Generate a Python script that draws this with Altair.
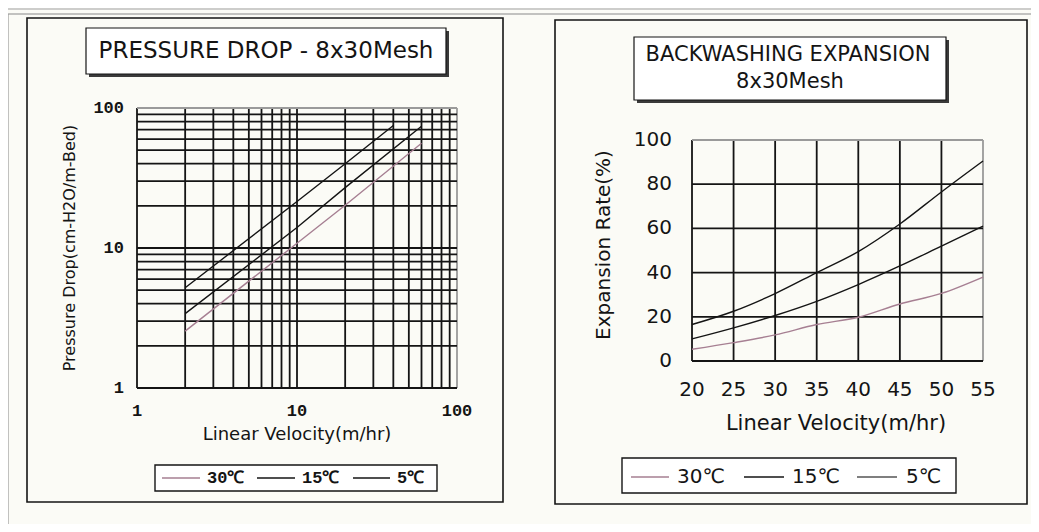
import altair as alt
import pandas as pd

# ---------------- data ----------------
# Pressure drop (log-log), Linear velocity (m/hr) vs cm-H2O/m-Bed
pd_v_5 = [2, 10, 20, 40]
pd_dp_5 = [5.2, 21.5, 40, 75]
pd_v_15 = [2, 10, 20, 60]
pd_dp_15 = [3.4, 14, 27, 74]
pd_v_30 = [2, 10, 20, 60]
pd_dp_30 = [2.55, 10.8, 20.2, 56]

# Backwashing expansion (%)
bw_v = [20, 25, 30, 35, 40, 45, 50, 55]
bw_5 = [16.5, 22.5, 30.5, 40, 49.5, 62, 76.5, 90.5]
bw_15 = [10, 15, 20.6, 27, 34.6, 43, 52, 61]
bw_30 = [5.3, 8.3, 11.8, 16.5, 19.8, 25.8, 30.6, 38]

series = ["30℃", "15℃", "5℃"]

log_grid = [1, 2, 3, 4, 5, 6, 7, 8, 9, 10, 20, 30, 40, 50, 60, 70, 80, 90, 100]
log_ticks = [1, 10, 100]
bw_x_ticks = [20, 25, 30, 35, 40, 45, 50, 55]
bw_y_ticks = [0, 20, 40, 60, 80, 100]

# ---------------- layout helpers ----------------
OX, OY = 12, 16   # page position of the chart origin
W, H = 1019, 508

def X(p):
    return p - OX

def Y(p):
    return p - OY

BG = "#fbfbf6"
INK = "#141414"
PINK = "#a67f92"
GRAY = "#9a9a9a"
SANS = "DejaVu Sans"
MONO = "Liberation Mono"

one = pd.DataFrame({"k": [0]})

def rect(x1, y1, x2, y2, fill=None, stroke=None, sw=1.0):
    kw = {}
    if fill is None:
        kw["fillOpacity"] = 0
    else:
        kw["fill"] = fill
    if stroke is not None:
        kw["stroke"] = stroke
        kw["strokeWidth"] = sw
    return alt.Chart(one).mark_rect(**kw).encode(
        x=alt.value(X(x1)), x2=alt.value(X(x2)),
        y=alt.value(Y(y1)), y2=alt.value(Y(y2)))

def hline(x1, x2, y, color=INK, sw=1.0):
    return alt.Chart(one).mark_rule(color=color, strokeWidth=sw).encode(
        x=alt.value(X(x1)), x2=alt.value(X(x2)), y=alt.value(Y(y)))

def vline(x, y1, y2, color=INK, sw=1.0):
    return alt.Chart(one).mark_rule(color=color, strokeWidth=sw).encode(
        x=alt.value(X(x)), y=alt.value(Y(y1)), y2=alt.value(Y(y2)))

def text(s, x, y, font=SANS, size=16, align="center", weight="normal", angle=0):
    kw = dict(text=s, font=font, fontSize=size, align=align, baseline="middle",
              fontWeight=weight, color=INK)
    if angle:
        kw["angle"] = angle
    return alt.Chart(one).mark_text(**kw).encode(x=alt.value(X(x)), y=alt.value(Y(y)))

layers = []

# ---------------- page frame ----------------
layers.append(hline(7, 1039, 6, color="#a0a0a0", sw=1.2))
layers.append(hline(7, 1039, 9, color="#a0a0a0", sw=1.2))
layers.append(hline(7, 1039, 14, color="#8a8a8a", sw=1.2))
layers.append(vline(8, 14, 532, color="#9a9a9a", sw=1.2))

# ================= LEFT PANEL =================
L_x0, L_x1, L_y0, L_y1 = 137, 457, 108, 388
LX = alt.Scale(type="log", domain=[1, 100], range=[X(L_x0), X(L_x1)], nice=False)
LY = alt.Scale(type="log", domain=[1, 100], range=[Y(L_y1), Y(L_y0)], nice=False)

layers.append(rect(27, 18, 503, 502, stroke=INK, sw=1.6))
# title box with shadow
layers.append(rect(89, 31, 449, 77, fill="#3a3a3a"))
layers.append(rect(86, 28, 446, 74, fill="white", stroke=INK, sw=1.2))
layers.append(text("PRESSURE DROP - 8x30Mesh", 266, 51, size=23))

grid_df = pd.DataFrame({"g": log_grid})
layers.append(alt.Chart(grid_df).mark_rule(strokeWidth=1.8).encode(
    x=alt.X("g:Q", scale=LX, axis=None),
    y=alt.value(Y(L_y0)), y2=alt.value(Y(L_y1)),
    color=alt.condition("datum.g == 100", alt.value(GRAY), alt.value(INK))))
layers.append(alt.Chart(grid_df).mark_rule(strokeWidth=1.8).encode(
    y=alt.Y("g:Q", scale=LY, axis=None),
    x=alt.value(X(L_x0)), x2=alt.value(X(L_x1)),
    color=alt.condition("datum.g == 100", alt.value(GRAY), alt.value(INK))))

left_df = pd.concat([
    pd.DataFrame({"v": pd_v_30, "y": pd_dp_30, "t": series[0]}),
    pd.DataFrame({"v": pd_v_15, "y": pd_dp_15, "t": series[1]}),
    pd.DataFrame({"v": pd_v_5, "y": pd_dp_5, "t": series[2]}),
])
layers.append(alt.Chart(left_df).mark_line(strokeWidth=1.4).encode(
    x=alt.X("v:Q", scale=LX, axis=None),
    y=alt.Y("y:Q", scale=LY, axis=None),
    color=alt.Color("t:N", scale=alt.Scale(domain=series, range=[PINK, INK, INK]), legend=None)))

tick_df = pd.DataFrame({"v": log_ticks})
layers.append(alt.Chart(tick_df).mark_text(font=MONO, fontSize=17, fontWeight="bold",
                                            align="right", baseline="middle", color=INK).encode(
    y=alt.Y("v:Q", scale=LY, axis=None), x=alt.value(X(124)),
    text=alt.Text("v:Q", format="d")))
layers.append(alt.Chart(tick_df).mark_text(font=MONO, fontSize=17, fontWeight="bold",
                                            align="center", baseline="middle", color=INK).encode(
    x=alt.X("v:Q", scale=LX, axis=None), y=alt.value(Y(411)),
    text=alt.Text("v:Q", format="d")))
layers.append(text("Linear Velocity(m/hr)", 297, 435, size=18))
layers.append(text("Pressure Drop(cm-H2O/m-Bed)", 70, 248, size=16, angle=270))

# legend
layers.append(rect(155, 465, 437, 491, fill="white", stroke=INK, sw=1.4))
for (x1, x2, tx), name, col in zip([(162, 200, 207), (257, 295, 302), (353, 390, 397)],
                                   series, [PINK, INK, INK]):
    layers.append(hline(x1, x2, 478, color=col, sw=1.3))
    layers.append(text(name, tx, 478, font=MONO, size=17, weight="bold", align="left"))

# ================= RIGHT PANEL =================
R_x0, R_x1, R_y0, R_y1 = 692, 983, 140, 361
RX = alt.Scale(type="linear", domain=[20, 55], range=[X(R_x0), X(R_x1)], nice=False, zero=False)
RY = alt.Scale(type="linear", domain=[0, 100], range=[Y(R_y1), Y(R_y0)], nice=False, zero=False)

layers.append(rect(555, 20, 1027, 504, stroke=INK, sw=1.6))
layers.append(rect(637, 40, 949, 103, fill="#3a3a3a"))
layers.append(rect(634, 37, 946, 100, fill="white", stroke=INK, sw=1.2))
layers.append(text("BACKWASHING EXPANSION", 788, 55, size=21))
layers.append(text("8x30Mesh", 790, 82, size=21))

bx_df = pd.DataFrame({"g": bw_x_ticks})
by_df = pd.DataFrame({"g": bw_y_ticks})
layers.append(alt.Chart(bx_df).mark_rule(strokeWidth=1.8).encode(
    x=alt.X("g:Q", scale=RX, axis=None),
    y=alt.value(Y(R_y0)), y2=alt.value(Y(R_y1)),
    color=alt.condition("datum.g == 55", alt.value(GRAY), alt.value(INK))))
layers.append(alt.Chart(by_df).mark_rule(strokeWidth=1.8).encode(
    y=alt.Y("g:Q", scale=RY, axis=None),
    x=alt.value(X(R_x0)), x2=alt.value(X(R_x1)),
    color=alt.condition("datum.g == 100", alt.value(GRAY), alt.value(INK))))

right_df = pd.concat([
    pd.DataFrame({"v": bw_v, "y": bw_30, "t": series[0]}),
    pd.DataFrame({"v": bw_v, "y": bw_15, "t": series[1]}),
    pd.DataFrame({"v": bw_v, "y": bw_5, "t": series[2]}),
])
layers.append(alt.Chart(right_df).mark_line(strokeWidth=1.4, interpolate="monotone").encode(
    x=alt.X("v:Q", scale=RX, axis=None),
    y=alt.Y("y:Q", scale=RY, axis=None),
    color=alt.Color("t:N", scale=alt.Scale(domain=series, range=[PINK, INK, INK]), legend=None)))

layers.append(alt.Chart(by_df).mark_text(font=SANS, fontSize=20, align="right",
                                          baseline="middle", color=INK).encode(
    y=alt.Y("g:Q", scale=RY, axis=None), x=alt.value(X(672)),
    text=alt.Text("g:Q", format="d")))
layers.append(alt.Chart(bx_df).mark_text(font=SANS, fontSize=20, align="center",
                                          baseline="middle", color=INK).encode(
    x=alt.X("g:Q", scale=RX, axis=None), y=alt.value(Y(390)),
    text=alt.Text("g:Q", format="d")))
layers.append(text("Linear Velocity(m/hr)", 836, 424, size=21))
layers.append(text("Expansion Rate(%)", 604, 245, size=20, angle=270))

layers.append(rect(622, 458, 956, 493, fill="white", stroke=INK, sw=1.4))
for (x1, x2, tx), name, col in zip([(631, 669, 677), (744, 784, 792), (857, 897, 906)],
                                   series, [PINK, INK, "#555555"]):
    layers.append(hline(x1, x2, 477, color=col, sw=1.3))
    layers.append(text(name, tx, 477, size=20, align="left"))

chart = alt.layer(*layers).resolve_scale(
    x="independent", y="independent", color="independent"
).properties(
    width=W, height=H,
    padding={"left": 4, "top": 8, "right": 0, "bottom": 0},
    autosize=alt.AutoSizeParams(type="none"),
    background=BG,
).configure_view(stroke=None)

chart.save("out.html", embed_options={"renderer": "svg", "actions": False})
